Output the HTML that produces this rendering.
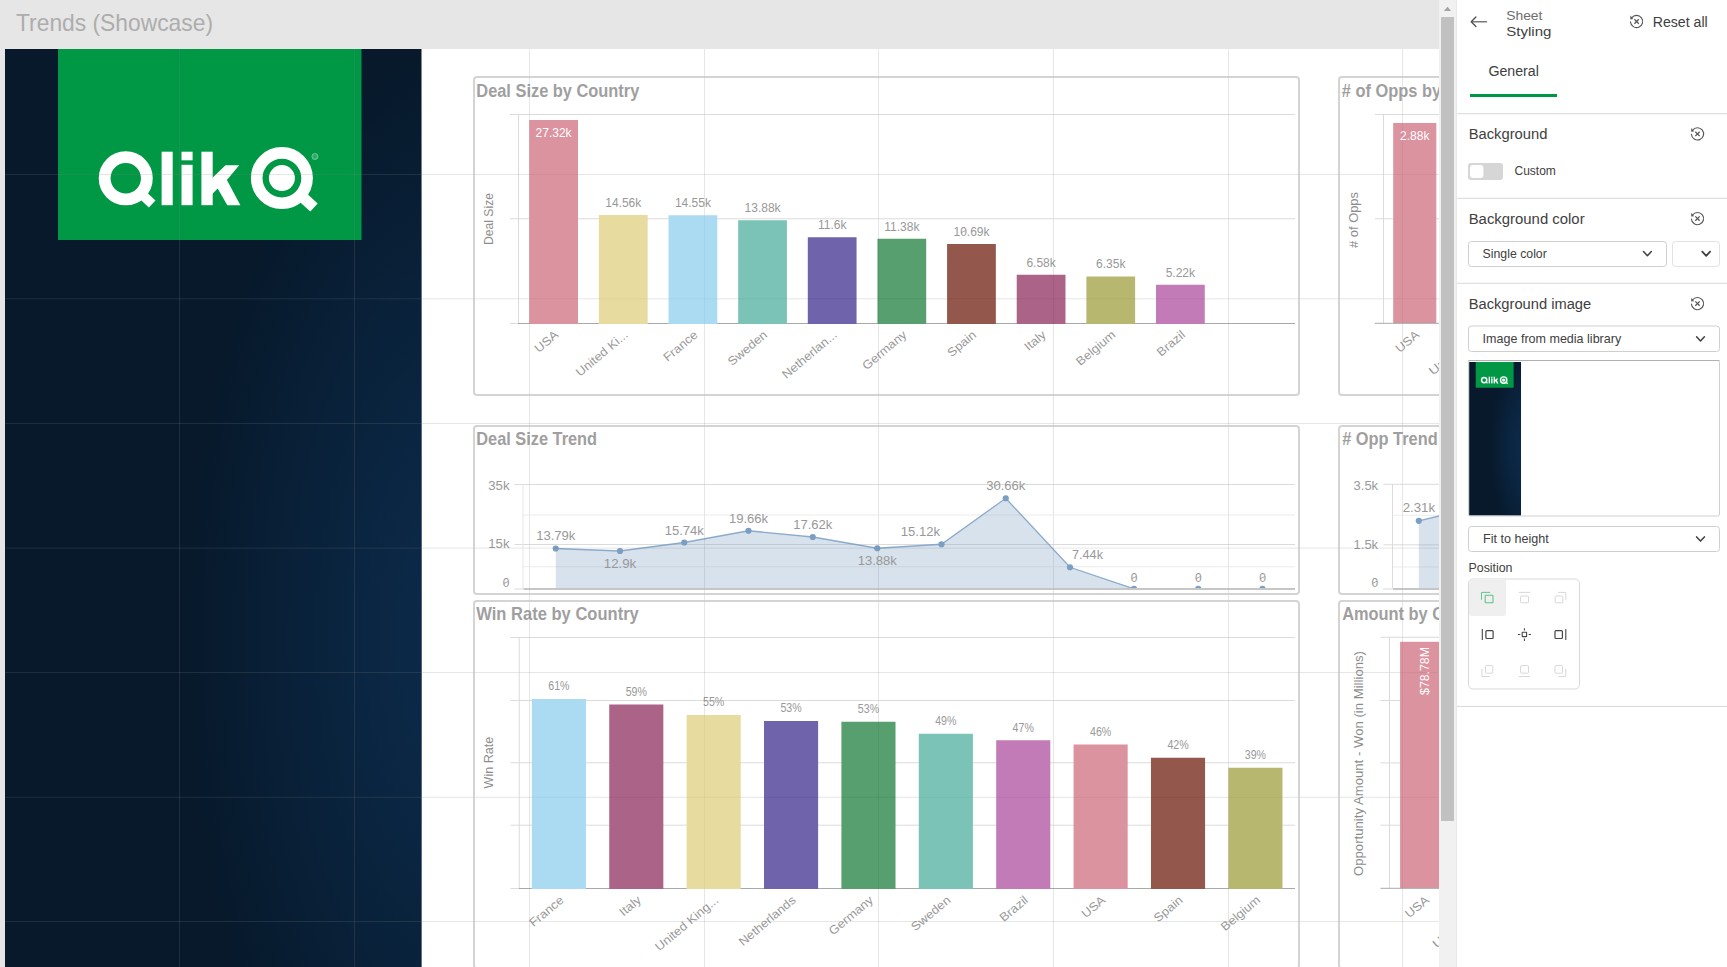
<!DOCTYPE html>
<html><head><meta charset="utf-8"><title>Trends (Showcase)</title>
<style>
html,body{margin:0;padding:0;background:#fff;overflow:hidden;width:1727px;height:967px}
svg{display:block;position:absolute;left:0;top:0}
text{font-family:"Liberation Sans",sans-serif}
#charts{opacity:0.7}
</style>
</head><body>
<svg id="base" width="1727" height="967" viewBox="0 0 1727 967">
<rect x="0" y="0" width="1727" height="967" fill="#ffffff"/>
<rect x="0" y="0" width="1439" height="49" fill="#e6e6e6"/>
<rect x="0" y="49" width="5" height="918" fill="#e6e6e6"/>
<text x="16" y="31" font-size="23.6" fill="#adadad" textLength="197" lengthAdjust="spacingAndGlyphs" >Trends (Showcase)</text>
<defs>
<radialGradient id="dk2" gradientUnits="userSpaceOnUse" cx="0" cy="0" r="1" gradientTransform="translate(470 640) scale(285 600)">
 <stop offset="0" stop-color="#0c2c4d" stop-opacity="1"/><stop offset="0.5" stop-color="#0c2c4d" stop-opacity="0.55"/><stop offset="1" stop-color="#0c2c4d" stop-opacity="0"/>
</radialGradient>
<radialGradient id="dk3" gradientUnits="userSpaceOnUse" cx="0" cy="0" r="1" gradientTransform="translate(470 720) scale(300 820)">
 <stop offset="0" stop-color="#0c2c4d" stop-opacity="1"/><stop offset="0.5" stop-color="#0c2c4d" stop-opacity="0.6"/><stop offset="1" stop-color="#0c2c4d" stop-opacity="0"/>
</radialGradient>
<clipPath id="sheet"><rect x="5" y="49" width="1434" height="918"/></clipPath>
<g id="logo" fill="#fff">
 <circle cx="125.75" cy="178.3" r="21.1" fill="none" stroke="#fff" stroke-width="11.8"/>
 <line x1="138.5" y1="191.3" x2="152.2" y2="204.05" stroke="#fff" stroke-width="9.7"/>
 <rect x="161.6" y="151.7" width="11.1" height="53.5"/>
 <rect x="181.5" y="151.7" width="11.1" height="8.6"/>
 <rect x="181.5" y="164.8" width="11.1" height="40.4"/>
 <rect x="201.4" y="151.7" width="11.3" height="53.5"/>
 <polygon points="212,178.3 225.5,165.2 239.2,165.2 226.9,180.1 240.4,205.2 227.3,205.2 217.7,188.6 212,194.2"/>
 <circle cx="281.9" cy="178.1" r="25.2" fill="none" stroke="#fff" stroke-width="11.6"/>
 <circle cx="281.9" cy="178.1" r="13"/>
 <line x1="298.5" y1="193.4" x2="314" y2="207.55" stroke="#fff" stroke-width="10.9"/>
 <circle cx="314.95" cy="156.5" r="3.1" fill="#fff" fill-opacity="0.25" stroke="#fff" stroke-width="0.9" stroke-opacity="0.32"/>
 <path d="M313.9 158.2 V154.9 H315.2 a0.9 0.9 0 0 1 0 1.8 H313.9 M315.1 156.7 L316.1 158.2" fill="none" stroke="#009845" stroke-width="0.55" stroke-opacity="0.6"/>
</g>
</defs>
<g clip-path="url(#sheet)">
<rect x="5" y="49" width="416.5" height="918" fill="#07192b"/>
<rect x="5" y="49" width="416.5" height="918" fill="url(#dk2)"/>
<rect x="58" y="49" width="303.5" height="191" fill="#009845"/>
<use href="#logo"/>
<rect x="179" y="49" width="1" height="918" fill="rgb(132,132,132)" fill-opacity="0.2"/>
<rect x="354" y="49" width="1" height="918" fill="rgb(132,132,132)" fill-opacity="0.2"/>
<rect x="529" y="49" width="1" height="918" fill="rgb(132,132,132)" fill-opacity="0.2"/>
<rect x="704" y="49" width="1" height="918" fill="rgb(132,132,132)" fill-opacity="0.2"/>
<rect x="878" y="49" width="1" height="918" fill="rgb(132,132,132)" fill-opacity="0.2"/>
<rect x="1053" y="49" width="1" height="918" fill="rgb(132,132,132)" fill-opacity="0.2"/>
<rect x="1228" y="49" width="1" height="918" fill="rgb(132,132,132)" fill-opacity="0.2"/>
<rect x="1402" y="49" width="1" height="918" fill="rgb(132,132,132)" fill-opacity="0.2"/>
<rect x="5" y="174" width="1434" height="1" fill="rgb(132,132,132)" fill-opacity="0.2"/>
<rect x="5" y="298.3" width="1434" height="1" fill="rgb(132,132,132)" fill-opacity="0.2"/>
<rect x="5" y="423" width="1434" height="1" fill="rgb(132,132,132)" fill-opacity="0.2"/>
<rect x="5" y="547.6" width="1434" height="1" fill="rgb(132,132,132)" fill-opacity="0.2"/>
<rect x="5" y="672" width="1434" height="1" fill="rgb(132,132,132)" fill-opacity="0.2"/>
<rect x="5" y="796.8" width="1434" height="1" fill="rgb(132,132,132)" fill-opacity="0.2"/>
<rect x="5" y="921" width="1434" height="1" fill="rgb(132,132,132)" fill-opacity="0.2"/>

</g>
<rect x="1439" y="0" width="18" height="967" fill="#f1f1f1"/>
<rect x="1456" y="0" width="1" height="967" fill="#e8e8e8"/>
<rect x="1441" y="17" width="13" height="804" fill="#c1c1c1"/>
<polygon points="1447.5,6.8 1451.1,11 1443.9,11" fill="#a3a3a3"/>
<rect x="1457" y="0" width="270" height="967" fill="#ffffff"/>
<path d="M1486.6 21.75 H1472" fill="none" stroke="#7a7a7a" stroke-width="1.3" stroke-linecap="round"/>
<path d="M1475.9 17 L1471.2 21.75 L1475.9 26.5" fill="none" stroke="#4d4d4d" stroke-width="1.25" stroke-linecap="round" stroke-linejoin="round"/>
<text x="1506.2" y="19.7" font-size="13.5" fill="#6e6e6e" textLength="36.2" lengthAdjust="spacingAndGlyphs" >Sheet</text>
<text x="1506.2" y="35.9" font-size="13.5" fill="#404040" textLength="45.2" lengthAdjust="spacingAndGlyphs" >Styling</text>
<path d="M1630.51 21.93 A6.1 6.1 0 1 0 1631.66 17.91" fill="none" stroke="#555555" stroke-width="1.15" stroke-linecap="round"/>
<polygon points="1630.40,15.60 1630.30,19.40 1633.20,19.05" fill="#555555"/>
<path d="M1634.3999999999999 19.3 L1638.8 23.7 M1638.8 19.3 L1634.3999999999999 23.7" fill="none" stroke="#555555" stroke-width="1.25"/>
<text x="1652.7" y="26.9" font-size="14" fill="#404040" textLength="55" lengthAdjust="spacingAndGlyphs" >Reset all</text>
<text x="1488.4" y="75.9" font-size="14" fill="#404040" textLength="50.4" lengthAdjust="spacingAndGlyphs" >General</text>
<rect x="1470" y="94" width="87" height="3" fill="#009845"/>
<rect x="1457" y="113.2" width="270" height="1" fill="#d9d9d9"/>
<text x="1468.7" y="138.9" font-size="14" fill="#404040" textLength="78.7" lengthAdjust="spacingAndGlyphs" >Background</text>
<path d="M1691.41 134.33 A6.1 6.1 0 1 0 1692.56 130.31" fill="none" stroke="#555555" stroke-width="1.15" stroke-linecap="round"/>
<polygon points="1691.30,128.00 1691.20,131.80 1694.10,131.45" fill="#555555"/>
<path d="M1695.3 131.70000000000002 L1699.7 136.1 M1699.7 131.70000000000002 L1695.3 136.1" fill="none" stroke="#555555" stroke-width="1.25"/>
<rect x="1468" y="163" width="35" height="17" rx="3" fill="#d6d6d6"/>
<rect x="1470" y="165" width="13.4" height="13" rx="3" fill="#ffffff"/>
<text x="1514.5" y="175.1" font-size="12.3" fill="#404040" textLength="41.3" lengthAdjust="spacingAndGlyphs" >Custom</text>
<rect x="1457" y="197.8" width="270" height="1" fill="#d9d9d9"/>
<text x="1468.7" y="223.8" font-size="14" fill="#404040" textLength="115.9" lengthAdjust="spacingAndGlyphs" >Background color</text>
<path d="M1691.41 219.03 A6.1 6.1 0 1 0 1692.56 215.01" fill="none" stroke="#555555" stroke-width="1.15" stroke-linecap="round"/>
<polygon points="1691.30,212.70 1691.20,216.50 1694.10,216.15" fill="#555555"/>
<path d="M1695.3 216.4 L1699.7 220.79999999999998 M1699.7 216.4 L1695.3 220.79999999999998" fill="none" stroke="#555555" stroke-width="1.25"/>
<rect x="1468.5" y="241.5" width="198" height="25" rx="3" fill="#fff" stroke="#cfcfcf" stroke-width="1"/>
<text x="1482.6" y="258" font-size="12.4" fill="#404040" textLength="64.2" lengthAdjust="spacingAndGlyphs" >Single color</text>
<path d="M1643.5 251.6 L1647.4 255.79999999999998 L1651.3000000000002 251.6" fill="none" stroke="#404040" stroke-width="1.5" stroke-linecap="round" stroke-linejoin="round"/>
<rect x="1672.5" y="241.5" width="47" height="25" rx="3" fill="#fff" stroke="#e2e2e2" stroke-width="1"/>
<path d="M1702.3 251.6 L1706.2 255.79999999999998 L1710.1000000000001 251.6" fill="none" stroke="#404040" stroke-width="1.8" stroke-linecap="round" stroke-linejoin="round"/>
<rect x="1457" y="282.8" width="270" height="1" fill="#d9d9d9"/>
<text x="1468.7" y="308.8" font-size="14" fill="#404040" textLength="122.5" lengthAdjust="spacingAndGlyphs" >Background image</text>
<path d="M1691.41 304.03 A6.1 6.1 0 1 0 1692.56 300.01" fill="none" stroke="#555555" stroke-width="1.15" stroke-linecap="round"/>
<polygon points="1691.30,297.70 1691.20,301.50 1694.10,301.15" fill="#555555"/>
<path d="M1695.3 301.40000000000003 L1699.7 305.8 M1699.7 301.40000000000003 L1695.3 305.8" fill="none" stroke="#555555" stroke-width="1.25"/>
<rect x="1468.5" y="326.0" width="251" height="25.5" rx="3" fill="#fff" stroke="#cfcfcf" stroke-width="1"/>
<text x="1482.6" y="343" font-size="12.4" fill="#404040" textLength="138.6" lengthAdjust="spacingAndGlyphs" >Image from media library</text>
<path d="M1696.6 336.79999999999995 L1700.5 341.0 L1704.4 336.79999999999995" fill="none" stroke="#404040" stroke-width="1.5" stroke-linecap="round" stroke-linejoin="round"/>
<rect x="1468.5" y="360.5" width="251" height="155.5" rx="2" fill="#fff" stroke="#d0d0d0" stroke-width="1"/>
<rect x="1468.5" y="360" width="251" height="1" fill="#b0b0b0"/>
<svg x="1469.1" y="362" width="52" height="153.6" viewBox="5 34 416.5 1229" preserveAspectRatio="none"><rect x="5" y="34" width="416.5" height="1229" fill="#07192b"/><rect x="5" y="34" width="416.5" height="1229" fill="url(#dk3)"/><rect x="58" y="34" width="303.5" height="206" fill="#009845"/><use href="#logo"/></svg>
<rect x="1468.5" y="526.5" width="251" height="25" rx="3" fill="#fff" stroke="#cfcfcf" stroke-width="1"/>
<text x="1483" y="543.2" font-size="12.4" fill="#404040" textLength="65.7" lengthAdjust="spacingAndGlyphs" >Fit to height</text>
<path d="M1696.6 536.9 L1700.5 541.1 L1704.4 536.9" fill="none" stroke="#404040" stroke-width="1.5" stroke-linecap="round" stroke-linejoin="round"/>
<text x="1468.5" y="572" font-size="12.3" fill="#404040" textLength="44" lengthAdjust="spacingAndGlyphs" >Position</text>
<rect x="1468.5" y="579" width="111" height="110" rx="4.5" fill="#fff" stroke="#d9d9d9" stroke-width="1"/>
<path d="M1469 583.5 a4 4 0 0 1 4 -4 H1506 V613.5 a2.5 2.5 0 0 1 -2.5 2.5 H1471.5 a2.5 2.5 0 0 1 -2.5 -2.5 Z" fill="#efefef"/>
<rect x="1485.2" y="595.3" width="7.7999999999999545" height="7.5" rx="0.5" fill="none" stroke="#5fc08b" stroke-width="1.05"/>
<path d="M1481.5 599.8 V592.4 H1490.2" fill="none" stroke="#5fc08b" stroke-width="0.95"/>
<path d="M1518.8 592.4 H1530.2" fill="none" stroke="#d6d6d6" stroke-width="0.95"/>
<rect x="1520.6" y="596" width="8.0" height="6.7999999999999545" rx="0.8" fill="none" stroke="#d6d6d6" stroke-width="0.95"/>
<rect x="1555.1" y="596" width="7.7000000000000455" height="6.7999999999999545" rx="0.8" fill="none" stroke="#d6d6d6" stroke-width="0.95"/>
<path d="M1558 592.4 H1565.8 V599.8" fill="none" stroke="#d6d6d6" stroke-width="0.95"/>
<path d="M1482.3 629 V639.9" fill="none" stroke="#454545" stroke-width="1.1"/>
<rect x="1485.9" y="630.6" width="7.199999999999818" height="7.899999999999977" rx="1" fill="none" stroke="#454545" stroke-width="1.2"/>
<rect x="1522.2" y="632.2" width="4.399999999999864" height="4.399999999999977" rx="0.3" fill="none" stroke="#454545" stroke-width="1.1"/>
<path d="M1524.4 628.2 V630.4 M1524.4 638.6 V640.9 M1518.1 634.4 H1520.3 M1528.7 634.4 H1531" fill="none" stroke="#454545" stroke-width="1.05"/>
<rect x="1555" y="630.6" width="7.400000000000091" height="7.899999999999977" rx="1" fill="none" stroke="#454545" stroke-width="1.2"/>
<path d="M1565.8 629 V639.9" fill="none" stroke="#454545" stroke-width="1.1"/>
<rect x="1485.5" y="665.6" width="7.2999999999999545" height="7.600000000000023" rx="0.8" fill="none" stroke="#d6d6d6" stroke-width="0.95"/>
<path d="M1481.9 668.8 V676.5 H1490" fill="none" stroke="#d6d6d6" stroke-width="0.95"/>
<rect x="1520.6" y="665.6" width="7.900000000000091" height="7.600000000000023" rx="0.8" fill="none" stroke="#d6d6d6" stroke-width="0.95"/>
<path d="M1518.9 676.5 H1530.2" fill="none" stroke="#d6d6d6" stroke-width="0.95"/>
<rect x="1555" y="665.6" width="7.5" height="7.600000000000023" rx="0.8" fill="none" stroke="#d6d6d6" stroke-width="0.95"/>
<path d="M1558.2 676.5 H1565.7 V668.8" fill="none" stroke="#d6d6d6" stroke-width="0.95"/>
<rect x="1457" y="705.9" width="270" height="1" fill="#d9d9d9"/>
</svg>
<svg id="charts" width="1727" height="967" viewBox="0 0 1727 967">
<defs>
<clipPath id="sheetB"><rect x="5" y="49" width="1434" height="918"/></clipPath>
<clipPath id="lc1"><rect x="510" y="470" width="790" height="119.6"/></clipPath>
<clipPath id="lc2"><rect x="1380" y="470" width="59" height="119.4"/></clipPath>
</defs>
<g clip-path="url(#sheetB)">

<rect x="474" y="77" width="825" height="318" rx="3" fill="none" stroke="#c3c3c3" stroke-width="2"/>
<rect x="474" y="426" width="825" height="168" rx="3" fill="none" stroke="#c3c3c3" stroke-width="2"/>
<rect x="474" y="601" width="825" height="367.20000000000005" rx="3" fill="none" stroke="#c3c3c3" stroke-width="2"/>
<rect x="1339" y="77" width="161" height="318" rx="3" fill="none" stroke="#c3c3c3" stroke-width="2"/>
<rect x="1339" y="426" width="161" height="168" rx="3" fill="none" stroke="#c3c3c3" stroke-width="2"/>
<rect x="1339" y="601" width="161" height="367.20000000000005" rx="3" fill="none" stroke="#c3c3c3" stroke-width="2"/>
<text x="476.3" y="96.8" font-size="17.8" fill="#777777" font-weight="bold" textLength="163" lengthAdjust="spacingAndGlyphs" >Deal Size by Country</text>
<rect x="510" y="114.0" width="785" height="1" fill="#cdcdcd"/>
<rect x="510" y="218.25" width="785" height="1" fill="#cdcdcd"/>
<rect x="518.0" y="114.5" width="1" height="208.5" fill="#cdcdcd"/>
<rect x="510" y="323.0" width="8" height="1" fill="#cdcdcd"/>
<rect x="518" y="323.0" width="777" height="1" fill="#868686"/>
<rect x="529.25" y="120" width="48.75" height="204" fill="#cc6677"/>
<text x="553.62" y="137" font-size="12" fill="#ffffff" text-anchor="middle" >27.32k</text>
<text x="559.23" y="336" font-size="12" fill="#6d6d6d" text-anchor="end" textLength="26.8" lengthAdjust="spacingAndGlyphs" transform="rotate(-40 559.23 336)" >USA</text>
<rect x="598.89" y="215" width="48.75" height="109" fill="#ddcc77"/>
<text x="623.26" y="206.9" font-size="12" fill="#6d6d6d" text-anchor="middle" >14.56k</text>
<text x="628.87" y="336" font-size="12" fill="#6d6d6d" text-anchor="end" textLength="63.7" lengthAdjust="spacingAndGlyphs" transform="rotate(-40 628.87 336)" >United Ki...</text>
<rect x="668.53" y="215.25" width="48.75" height="108.75" fill="#88ccee"/>
<text x="692.9" y="207.15" font-size="12" fill="#6d6d6d" text-anchor="middle" >14.55k</text>
<text x="698.5" y="336" font-size="12" fill="#6d6d6d" text-anchor="end" textLength="40.5" lengthAdjust="spacingAndGlyphs" transform="rotate(-40 698.5 336)" >France</text>
<rect x="738.17" y="220.25" width="48.75" height="103.75" fill="#44aa99"/>
<text x="762.55" y="212.15" font-size="12" fill="#6d6d6d" text-anchor="middle" >13.88k</text>
<text x="768.15" y="336" font-size="12" fill="#6d6d6d" text-anchor="end" textLength="47.1" lengthAdjust="spacingAndGlyphs" transform="rotate(-40 768.15 336)" >Sweden</text>
<rect x="807.81" y="237.25" width="48.75" height="86.75" fill="#332288"/>
<text x="832.18" y="229.15" font-size="12" fill="#6d6d6d" text-anchor="middle" >11.6k</text>
<text x="837.78" y="336" font-size="12" fill="#6d6d6d" text-anchor="end" textLength="67.3" lengthAdjust="spacingAndGlyphs" transform="rotate(-40 837.78 336)" >Netherlan...</text>
<rect x="877.45" y="238.75" width="48.75" height="85.25" fill="#117733"/>
<text x="901.83" y="230.65" font-size="12" fill="#6d6d6d" text-anchor="middle" >11.38k</text>
<text x="907.43" y="336" font-size="12" fill="#6d6d6d" text-anchor="end" textLength="53.5" lengthAdjust="spacingAndGlyphs" transform="rotate(-40 907.43 336)" >Germany</text>
<rect x="947.09" y="244" width="48.75" height="80" fill="#661100"/>
<text x="971.47" y="235.9" font-size="12" fill="#6d6d6d" text-anchor="middle" >10.69k</text>
<path d="M961.17 232.75 L965.76 230.45" stroke="#6d6d6d" stroke-width="0.85" fill="none"/>
<text x="977.07" y="336" font-size="12" fill="#6d6d6d" text-anchor="end" textLength="33.3" lengthAdjust="spacingAndGlyphs" transform="rotate(-40 977.07 336)" >Spain</text>
<rect x="1016.73" y="274.75" width="48.75" height="49.25" fill="#882255"/>
<text x="1041.11" y="266.65" font-size="12" fill="#6d6d6d" text-anchor="middle" >6.58k</text>
<text x="1046.7" y="336" font-size="12" fill="#6d6d6d" text-anchor="end" textLength="23.9" lengthAdjust="spacingAndGlyphs" transform="rotate(-40 1046.7 336)" >Italy</text>
<rect x="1086.37" y="276.5" width="48.75" height="47.5" fill="#999933"/>
<text x="1110.74" y="268.4" font-size="12" fill="#6d6d6d" text-anchor="middle" >6.35k</text>
<text x="1116.34" y="336" font-size="12" fill="#6d6d6d" text-anchor="end" textLength="47.0" lengthAdjust="spacingAndGlyphs" transform="rotate(-40 1116.34 336)" >Belgium</text>
<rect x="1156.01" y="284.75" width="48.75" height="39.25" fill="#aa4499"/>
<text x="1180.38" y="276.65" font-size="12" fill="#6d6d6d" text-anchor="middle" >5.22k</text>
<text x="1185.98" y="336" font-size="12" fill="#6d6d6d" text-anchor="end" textLength="32.6" lengthAdjust="spacingAndGlyphs" transform="rotate(-40 1185.98 336)" >Brazil</text>
<text x="492.6" y="219" font-size="12" fill="#5b5b5b" text-anchor="middle" textLength="52" lengthAdjust="spacingAndGlyphs" transform="rotate(-90 492.6 219)" >Deal Size</text>
<text x="476.3" y="445" font-size="17.8" fill="#777777" font-weight="bold" textLength="120.75" lengthAdjust="spacingAndGlyphs" >Deal Size Trend</text>
<rect x="514.5" y="484.0" width="780.5" height="1" fill="#cdcdcd"/>
<rect x="514.5" y="544.0" width="780.5" height="1" fill="#cdcdcd"/>
<rect x="522.5" y="514.5" width="772.5" height="1" fill="#e5e5e5"/>
<rect x="522.5" y="566.25" width="772.5" height="1" fill="#e5e5e5"/>
<rect x="522.5" y="484.5" width="1" height="104.25" fill="#dcdcdc"/>
<text x="509.5" y="489.5" font-size="12" fill="#6d6d6d" text-anchor="end" textLength="21.25" lengthAdjust="spacingAndGlyphs" >35k</text>
<text x="509.5" y="548.25" font-size="12" fill="#6d6d6d" text-anchor="end" textLength="21.25" lengthAdjust="spacingAndGlyphs" >15k</text>
<text x="509.5" y="586.75" font-size="12" fill="#6d6d6d" text-anchor="end" >0</text>
<path d="M503.86 583.60 L508.46 581.30" stroke="#6d6d6d" stroke-width="0.85" fill="none"/>
<g clip-path="url(#lc1)">
<polygon points="555.75,588.75 555.75,548.5 620,551 684.25,542.5 748.5,530.75 812.75,537 877.25,548.25 941.5,544.25 1005.75,498.25 1070,567.25 1134,588.75 1198.25,588.75 1262.5,588.75 1262.5,588.75" fill="#4477aa" fill-opacity="0.3"/>
<polyline points="555.75,548.5 620,551 684.25,542.5 748.5,530.75 812.75,537 877.25,548.25 941.5,544.25 1005.75,498.25 1070,567.25 1134,588.75 1198.25,588.75 1262.5,588.75" fill="none" stroke="#4477aa" stroke-opacity="0.85" stroke-width="1.3"/>
<circle cx="555.75" cy="548.5" r="3.1" fill="#4477aa"/>
<circle cx="620" cy="551" r="3.1" fill="#4477aa"/>
<circle cx="684.25" cy="542.5" r="3.1" fill="#4477aa"/>
<circle cx="748.5" cy="530.75" r="3.1" fill="#4477aa"/>
<circle cx="812.75" cy="537" r="3.1" fill="#4477aa"/>
<circle cx="877.25" cy="548.25" r="3.1" fill="#4477aa"/>
<circle cx="941.5" cy="544.25" r="3.1" fill="#4477aa"/>
<circle cx="1005.75" cy="498.25" r="3.1" fill="#4477aa"/>
<circle cx="1070" cy="567.25" r="3.1" fill="#4477aa"/>
<circle cx="1134" cy="588.75" r="3.1" fill="#4477aa"/>
<circle cx="1198.25" cy="588.75" r="3.1" fill="#4477aa"/>
<circle cx="1262.5" cy="588.75" r="3.1" fill="#4477aa"/>
</g>
<rect x="514.5" y="588.0" width="8.5" height="2" fill="#e5e5e5"/>
<rect x="523.5" y="588.0" width="771.5" height="2" fill="#aeaeae"/>
<text x="555.75" y="539.5" font-size="12" fill="#6d6d6d" text-anchor="middle" textLength="39.25" lengthAdjust="spacingAndGlyphs" >13.79k</text>
<text x="620" y="567.5" font-size="12" fill="#6d6d6d" text-anchor="middle" textLength="32.5" lengthAdjust="spacingAndGlyphs" >12.9k</text>
<text x="684.25" y="534.5" font-size="12" fill="#6d6d6d" text-anchor="middle" textLength="39.25" lengthAdjust="spacingAndGlyphs" >15.74k</text>
<text x="748.5" y="522.5" font-size="12" fill="#6d6d6d" text-anchor="middle" textLength="39.25" lengthAdjust="spacingAndGlyphs" >19.66k</text>
<text x="812.75" y="528.5" font-size="12" fill="#6d6d6d" text-anchor="middle" textLength="39.25" lengthAdjust="spacingAndGlyphs" >17.62k</text>
<text x="877.25" y="564.5" font-size="12" fill="#6d6d6d" text-anchor="middle" textLength="39.25" lengthAdjust="spacingAndGlyphs" >13.88k</text>
<text x="940" y="535.5" font-size="12" fill="#6d6d6d" text-anchor="end" textLength="39.25" lengthAdjust="spacingAndGlyphs" >15.12k</text>
<text x="1005.75" y="489.5" font-size="12" fill="#6d6d6d" text-anchor="middle" textLength="39.25" lengthAdjust="spacingAndGlyphs" >30.66k</text>
<path d="M994.73 486.35 L999.33 484.05" stroke="#6d6d6d" stroke-width="0.85" fill="none"/>
<text x="1072" y="558.75" font-size="12" fill="#6d6d6d" textLength="31" lengthAdjust="spacingAndGlyphs" >7.44k</text>
<text x="1134" y="581.9" font-size="12" fill="#6d6d6d" text-anchor="middle" >0</text>
<path d="M1131.70 578.75 L1136.30 576.45" stroke="#6d6d6d" stroke-width="0.85" fill="none"/>
<text x="1198.25" y="581.9" font-size="12" fill="#6d6d6d" text-anchor="middle" >0</text>
<path d="M1195.95 578.75 L1200.55 576.45" stroke="#6d6d6d" stroke-width="0.85" fill="none"/>
<text x="1262.5" y="581.9" font-size="12" fill="#6d6d6d" text-anchor="middle" >0</text>
<path d="M1260.20 578.75 L1264.80 576.45" stroke="#6d6d6d" stroke-width="0.85" fill="none"/>
<text x="476.3" y="620" font-size="17.8" fill="#777777" font-weight="bold" textLength="162.5" lengthAdjust="spacingAndGlyphs" >Win Rate by Country</text>
<rect x="510.5" y="637.0" width="784.5" height="1" fill="#cdcdcd"/>
<rect x="510.5" y="700.0" width="784.5" height="1" fill="#cdcdcd"/>
<rect x="510.5" y="762.25" width="784.5" height="1" fill="#cdcdcd"/>
<rect x="510.5" y="824.7" width="784.5" height="1" fill="#cdcdcd"/>
<rect x="518.75" y="637.5" width="1" height="250.75" fill="#cdcdcd"/>
<rect x="510.5" y="888.0" width="8.5" height="1" fill="#cdcdcd"/>
<rect x="519" y="888.0" width="776" height="1" fill="#868686"/>
<rect x="531.85" y="699" width="54.1" height="190" fill="#88ccee"/>
<text x="558.9" y="690.4" font-size="12" fill="#6d6d6d" text-anchor="middle" textLength="21.25" lengthAdjust="spacingAndGlyphs" >61%</text>
<text x="564.5" y="901.3" font-size="12" fill="#6d6d6d" text-anchor="end" textLength="40.5" lengthAdjust="spacingAndGlyphs" transform="rotate(-40 564.5 901.3)" >France</text>
<rect x="609.24" y="704.5" width="54.1" height="184.5" fill="#882255"/>
<text x="636.29" y="695.9" font-size="12" fill="#6d6d6d" text-anchor="middle" textLength="21.25" lengthAdjust="spacingAndGlyphs" >59%</text>
<text x="641.89" y="901.3" font-size="12" fill="#6d6d6d" text-anchor="end" textLength="23.9" lengthAdjust="spacingAndGlyphs" transform="rotate(-40 641.89 901.3)" >Italy</text>
<rect x="686.63" y="715" width="54.1" height="174" fill="#ddcc77"/>
<text x="713.68" y="706.4" font-size="12" fill="#6d6d6d" text-anchor="middle" textLength="21.25" lengthAdjust="spacingAndGlyphs" >55%</text>
<text x="719.28" y="901.3" font-size="12" fill="#6d6d6d" text-anchor="end" textLength="78.2" lengthAdjust="spacingAndGlyphs" transform="rotate(-40 719.28 901.3)" >United King...</text>
<rect x="764.02" y="721" width="54.1" height="168" fill="#332288"/>
<text x="791.07" y="712.4" font-size="12" fill="#6d6d6d" text-anchor="middle" textLength="21.25" lengthAdjust="spacingAndGlyphs" >53%</text>
<text x="796.67" y="901.3" font-size="12" fill="#6d6d6d" text-anchor="end" textLength="70.2" lengthAdjust="spacingAndGlyphs" transform="rotate(-40 796.67 901.3)" >Netherlands</text>
<rect x="841.41" y="721.75" width="54.1" height="167.25" fill="#117733"/>
<text x="868.46" y="713.15" font-size="12" fill="#6d6d6d" text-anchor="middle" textLength="21.25" lengthAdjust="spacingAndGlyphs" >53%</text>
<text x="874.06" y="901.3" font-size="12" fill="#6d6d6d" text-anchor="end" textLength="53.5" lengthAdjust="spacingAndGlyphs" transform="rotate(-40 874.06 901.3)" >Germany</text>
<rect x="918.80" y="733.75" width="54.1" height="155.25" fill="#44aa99"/>
<text x="945.85" y="725.15" font-size="12" fill="#6d6d6d" text-anchor="middle" textLength="21.25" lengthAdjust="spacingAndGlyphs" >49%</text>
<text x="951.45" y="901.3" font-size="12" fill="#6d6d6d" text-anchor="end" textLength="47.1" lengthAdjust="spacingAndGlyphs" transform="rotate(-40 951.45 901.3)" >Sweden</text>
<rect x="996.19" y="740.25" width="54.1" height="148.75" fill="#aa4499"/>
<text x="1023.24" y="731.65" font-size="12" fill="#6d6d6d" text-anchor="middle" textLength="21.25" lengthAdjust="spacingAndGlyphs" >47%</text>
<text x="1028.84" y="901.3" font-size="12" fill="#6d6d6d" text-anchor="end" textLength="32.6" lengthAdjust="spacingAndGlyphs" transform="rotate(-40 1028.84 901.3)" >Brazil</text>
<rect x="1073.58" y="744.5" width="54.1" height="144.5" fill="#cc6677"/>
<text x="1100.63" y="735.9" font-size="12" fill="#6d6d6d" text-anchor="middle" textLength="21.25" lengthAdjust="spacingAndGlyphs" >46%</text>
<text x="1106.23" y="901.3" font-size="12" fill="#6d6d6d" text-anchor="end" textLength="26.8" lengthAdjust="spacingAndGlyphs" transform="rotate(-40 1106.23 901.3)" >USA</text>
<rect x="1150.97" y="757.75" width="54.1" height="131.25" fill="#661100"/>
<text x="1178.02" y="749.15" font-size="12" fill="#6d6d6d" text-anchor="middle" textLength="21.25" lengthAdjust="spacingAndGlyphs" >42%</text>
<text x="1183.62" y="901.3" font-size="12" fill="#6d6d6d" text-anchor="end" textLength="33.3" lengthAdjust="spacingAndGlyphs" transform="rotate(-40 1183.62 901.3)" >Spain</text>
<rect x="1228.36" y="767.75" width="54.1" height="121.25" fill="#999933"/>
<text x="1255.41" y="759.15" font-size="12" fill="#6d6d6d" text-anchor="middle" textLength="21.25" lengthAdjust="spacingAndGlyphs" >39%</text>
<text x="1261.01" y="901.3" font-size="12" fill="#6d6d6d" text-anchor="end" textLength="47.0" lengthAdjust="spacingAndGlyphs" transform="rotate(-40 1261.01 901.3)" >Belgium</text>
<text x="492.6" y="762.5" font-size="12" fill="#5b5b5b" text-anchor="middle" textLength="51.75" lengthAdjust="spacingAndGlyphs" transform="rotate(-90 492.6 762.5)" >Win Rate</text>
<text x="1341.8" y="96.9" font-size="17.8" fill="#777777" font-weight="bold" textLength="166.6" lengthAdjust="spacingAndGlyphs" ># of Opps by Country</text>
<rect x="1374.8" y="114.0" width="125.20000000000005" height="1" fill="#cdcdcd"/>
<rect x="1374.8" y="218.25" width="125.20000000000005" height="1" fill="#cdcdcd"/>
<rect x="1383.0" y="114.5" width="1" height="208.8" fill="#cdcdcd"/>
<rect x="1393.2" y="123" width="43.1" height="200.3" fill="#cc6677"/>
<rect x="1454.9" y="200" width="43.1" height="123" fill="#ddcc77"/>
<text x="1414.75" y="140" font-size="12" fill="#ffffff" text-anchor="middle" >2.88k</text>
<rect x="1374.8" y="322.8" width="125.20000000000005" height="1" fill="#868686"/>
<text x="1420.2" y="336" font-size="12" fill="#6d6d6d" text-anchor="end" textLength="26.8" lengthAdjust="spacingAndGlyphs" transform="rotate(-40 1420.2 336)" >USA</text>
<text x="1433.1" y="375.8" font-size="12" fill="#6d6d6d" textLength="70.8" lengthAdjust="spacingAndGlyphs" transform="rotate(-40 1433.1 375.8)" >United Ki...</text>
<text x="1357.5" y="220" font-size="12" fill="#5b5b5b" text-anchor="middle" textLength="56" lengthAdjust="spacingAndGlyphs" transform="rotate(-90 1357.5 220)" ># of Opps</text>
<text x="1342.2" y="444.6" font-size="17.8" fill="#777777" font-weight="bold" textLength="95.5" lengthAdjust="spacingAndGlyphs" ># Opp Trend</text>
<rect x="1383.4" y="483.8" width="116.59999999999991" height="1" fill="#cdcdcd"/>
<rect x="1383.4" y="544.3" width="116.59999999999991" height="1" fill="#cdcdcd"/>
<rect x="1392.5" y="514.8" width="107.5" height="1" fill="#e5e5e5"/>
<rect x="1392.5" y="566.5" width="107.5" height="1" fill="#e5e5e5"/>
<rect x="1392.0" y="484.3" width="1" height="104.30000000000001" fill="#cdcdcd"/>
<text x="1378.1" y="489.8" font-size="12" fill="#6d6d6d" text-anchor="end" textLength="24.5" lengthAdjust="spacingAndGlyphs" >3.5k</text>
<text x="1378.1" y="548.7" font-size="12" fill="#6d6d6d" text-anchor="end" textLength="24.5" lengthAdjust="spacingAndGlyphs" >1.5k</text>
<text x="1378.1" y="586.6" font-size="12" fill="#6d6d6d" text-anchor="end" >0</text>
<path d="M1372.46 583.45 L1377.06 581.15" stroke="#6d6d6d" stroke-width="0.85" fill="none"/>
<g clip-path="url(#lc2)">
<polygon points="1418.8,588.6 1418.8,520.8 1460,511 1460,588.6" fill="#4477aa" fill-opacity="0.3"/>
<polyline points="1418.8,520.8 1460,511" fill="none" stroke="#4477aa" stroke-opacity="0.85" stroke-width="1.3"/>
<circle cx="1418.8" cy="520.8" r="3.1" fill="#4477aa"/>
</g>
<rect x="1383.4" y="588.0" width="9.099999999999909" height="2" fill="#e5e5e5"/>
<rect x="1393" y="588.0" width="107" height="2" fill="#aeaeae"/>
<text x="1418.9" y="511.8" font-size="12" fill="#6d6d6d" text-anchor="middle" textLength="32.4" lengthAdjust="spacingAndGlyphs" >2.31k</text>
<text x="1342.2" y="619.6" font-size="17.8" fill="#777777" font-weight="bold" textLength="152.9" lengthAdjust="spacingAndGlyphs" >Amount by Country</text>
<rect x="1380.5" y="636.8" width="119.5" height="1" fill="#cdcdcd"/>
<rect x="1380.5" y="700.0" width="119.5" height="1" fill="#cdcdcd"/>
<rect x="1380.5" y="762.4" width="119.5" height="1" fill="#cdcdcd"/>
<rect x="1380.5" y="824.7" width="119.5" height="1" fill="#cdcdcd"/>
<rect x="1389.0" y="637.3" width="1" height="251.0" fill="#cdcdcd"/>
<rect x="1400.1" y="641.8" width="60" height="246.5" fill="#cc6677"/>
<rect x="1380.5" y="887.8" width="119.5" height="1" fill="#868686"/>
<text x="1429" y="671" font-size="12" fill="#ffffff" text-anchor="middle" textLength="47.8" lengthAdjust="spacingAndGlyphs" transform="rotate(-90 1429 671)" >$78.78M</text>
<text x="1429.8" y="901.3" font-size="12" fill="#6d6d6d" text-anchor="end" textLength="26.8" lengthAdjust="spacingAndGlyphs" transform="rotate(-40 1429.8 901.3)" >USA</text>
<text x="1436.8" y="948.8" font-size="12" fill="#6d6d6d" textLength="70.8" lengthAdjust="spacingAndGlyphs" transform="rotate(-40 1436.8 948.8)" >United Ki...</text>
<text x="1362.7" y="763.5" font-size="12" fill="#5b5b5b" text-anchor="middle" textLength="225" lengthAdjust="spacingAndGlyphs" transform="rotate(-90 1362.7 763.5)" >Opportunity Amount - Won (in Millions)</text>

</g>
</svg>
</body></html>
